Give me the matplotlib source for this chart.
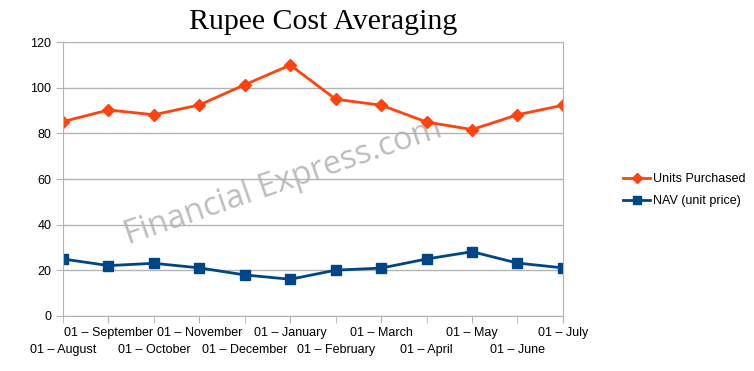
import matplotlib.pyplot as plt

months = ["01 – August", "01 – September", "01 – October", "01 – November",
          "01 – December", "01 – January", "01 – February", "01 – March",
          "01 – April", "01 – May", "01 – June", "01 – July"]
units_purchased = [85.2, 90.3, 88.2, 92.5, 101.4, 110, 95, 92.4, 85, 81.7, 88.2, 92.4]
nav = [24.9, 22, 23, 21, 17.9, 16, 20, 20.9, 24.9, 28.1, 23.1, 21]

plt.rcParams['font.family'] = ['Liberation Sans', 'DejaVu Sans']
grey = '#b3b3b3'

fig = plt.figure(figsize=(7.54, 3.71), dpi=100)
ax = fig.add_axes([0.0836, 0.149, 0.663, 0.737])

xs = list(range(len(months)))
ax.plot(xs, units_purchased, color='#ff420e', lw=2, marker='D', ms=6.5, label='Units Purchased')
ax.plot(xs, nav, color='#004586', lw=2, marker='s', ms=7, label='NAV (unit price)')

ax.set_xlim(0, len(months) - 1)
ax.set_ylim(0, 120)
ax.set_yticks(range(0, 121, 20))
ax.yaxis.grid(True, color=grey, lw=1)
ax.set_axisbelow(True)
for s in ax.spines.values():
    s.set_color(grey)

# staggered month labels: odd months on the top row (major), even below (minor)
ax.set_xticks(xs[1::2])
ax.set_xticklabels(months[1::2])
ax.set_xticks(xs[0::2], minor=True)
ax.set_xticklabels(months[0::2], minor=True)
ax.tick_params(axis='both', which='both', colors=grey, labelcolor='black', labelsize=9, length=5)
ax.tick_params(axis='x', which='major', pad=3)
ax.tick_params(axis='x', which='minor', pad=15.5)

# watermark
ax.text(0.44, 0.49, "Financial Express.com", transform=ax.transAxes, rotation=19,
        ha='center', va='center', fontsize=23.5, color='#bdbdbd', family='Open Sans', zorder=0)

fig.text(0.428, 0.94, "Rupee Cost Averaging", ha='center', va='center',
         fontsize=21.5, family='Liberation Serif')

ax.legend(loc='center left', bbox_to_anchor=(0.812, 0.487), bbox_transform=fig.transFigure,
          frameon=False, fontsize=9, handlelength=2.1, handletextpad=0.3, labelspacing=0.8,
          markerscale=0.75)

fig.savefig('out.png', dpi=100)
